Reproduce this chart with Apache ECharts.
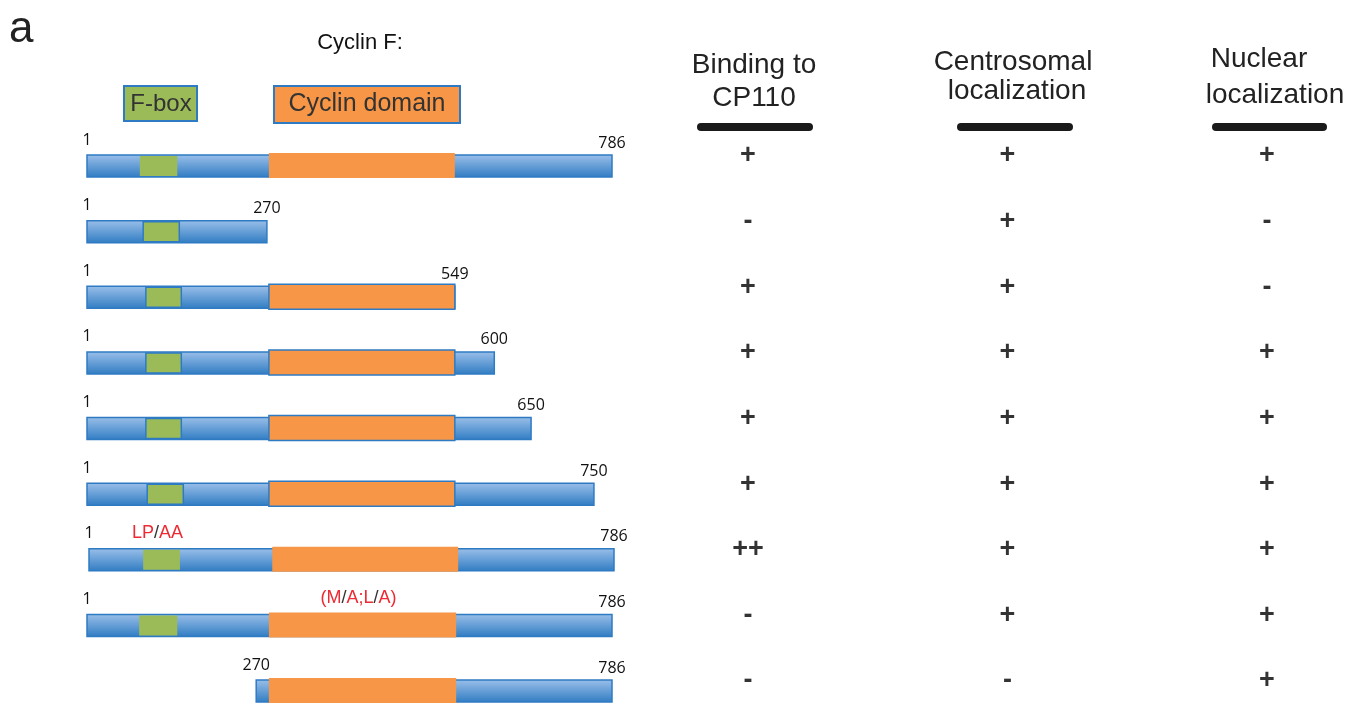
<!DOCTYPE html>
<html>
<head>
<meta charset="utf-8">
<script src="https://cdn.jsdelivr.net/npm/echarts@6/dist/echarts.min.js"></script>
<style>
  html, body { margin: 0; padding: 0; background: #fff; }
  #main { width: 1357px; height: 705px; }
</style>
</head>
<body>
<div id="main"></div>
<script>
// constructs of cyclin F, top to bottom
var rows = ['FL', '1-270', '1-549', '1-600', '1-650', '1-750', 'LP/AA', 'M/A;L/A', '270-786'];
// drawn extent of each construct (residues, as drawn in the figure)
var spanStart = [1, 1, 1, 1, 1, 1, 4, 1, 254];
var spanEnd = [786, 270, 551, 610, 665, 759, 789, 786, 786];
var startLabels = ['1', '1', '1', '1', '1', '1', '1', '1', '270'];
var endLabels = ['786', '270', '549', '600', '650', '750', '786', '786', '786'];
// F-box and cyclin domain (null = absent)
var fboxStart = [80, 85, 89, 89, 89, 91, 85, 79, null];
var fboxEnd = [136, 139, 142, 142, 142, 145, 140, 136, null];
var cyclinStart = [273, null, 273, 273, 273, 273, 278, 273, 273];
var cyclinEnd = [551, null, 551, 551, 551, 551, 556, 553, 553];
// point mutations, written above the mutated domain
var mutations = ['', '', '', '', '', '', '{r|LP}{k|/}{r|AA}', '{r|(M}{k|/}{r|A;L}{k|/}{r|A)}', ''];
var mutationDomain = [null, null, null, null, null, null, 'fbox', 'cyclin', null];
// phenotype table
var columns = ['Binding to\nCP110', 'Centrosomal\nlocalization', 'Nuclear\nlocalization'];
var binding = ['+', '-', '+', '+', '+', '+', '++', '-', '-'];
var centrosomal = ['+', '+', '+', '+', '+', '+', '+', '+', '-'];
var nuclear = ['+', '-', '-', '+', '+', '+', '+', '+', '+'];

var BLUE = '#2e7bc4';
var GREEN = '#9bbb59';
var ORANGE = '#f79646';
var RED = '#ec2a33';
var barGrad = new echarts.graphic.LinearGradient(0, 0, 0, 1, [
  { offset: 0, color: '#9cc0ea' },
  { offset: 1, color: '#2f7cc2' }
]);

var constructData = rows.map(function (r, i) {
  return [i, spanStart[i], spanEnd[i], fboxStart[i], fboxEnd[i], cyclinStart[i], cyclinEnd[i]];
});

function renderConstruct(params, api) {
  var i = params.dataIndex;
  var row = api.value(0);
  var p0 = api.coord([api.value(1), row]);
  var p1 = api.coord([api.value(2), row]);
  var h = 22;
  var cy = p0[1];
  var bordered = i >= 1 && i <= 5;
  var kids = [{
    type: 'rect',
    shape: { x: p0[0], y: cy - h / 2, width: p1[0] - p0[0], height: h },
    style: { fill: barGrad, stroke: BLUE, lineWidth: 1.5 }
  }];
  var fb = null, cd = null;
  if (fboxStart[i] != null) {
    var f0 = api.coord([fboxStart[i], row]), f1 = api.coord([fboxEnd[i], row]);
    fb = [f0[0], f1[0]];
    kids.push({
      type: 'rect',
      shape: { x: f0[0], y: cy - h / 2 + 1, width: f1[0] - f0[0], height: h - 2 },
      style: { fill: GREEN, stroke: bordered ? BLUE : null, lineWidth: 1.5 }
    });
  }
  if (cyclinStart[i] != null) {
    var c0 = api.coord([cyclinStart[i], row]), c1 = api.coord([cyclinEnd[i], row]);
    cd = [c0[0], c1[0]];
    kids.push({
      type: 'rect',
      shape: { x: c0[0], y: cy - h / 2 - 2, width: c1[0] - c0[0], height: h + 3 },
      style: { fill: ORANGE, stroke: bordered ? BLUE : null, lineWidth: 1.5 }
    });
  }
  kids.push({
    type: 'text', x: p0[0], y: cy - 26,
    style: { text: startLabels[i], font: '16px "Open Sans"', fill: '#111', align: 'center', verticalAlign: 'middle' }
  });
  kids.push({
    type: 'text', x: p1[0], y: cy - 23,
    style: { text: endLabels[i], font: '16px "Open Sans"', fill: '#111', align: 'center', verticalAlign: 'middle' }
  });
  if (mutations[i]) {
    var d = mutationDomain[i] === 'fbox' ? fb : cd;
    kids.push({
      type: 'text', x: (d[0] + d[1]) / 2 - 4, y: cy - 27,
      style: {
        text: mutations[i], align: 'center', verticalAlign: 'middle',
        rich: {
          r: { fontSize: 18, fontFamily: 'Liberation Sans', fill: RED },
          k: { fontSize: 18, fontFamily: 'Liberation Sans', fill: '#333' }
        }
      }
    });
  }
  return { type: 'group', children: kids };
}

var tableData = [];
[binding, centrosomal, nuclear].forEach(function (col, c) {
  col.forEach(function (v, r) { tableData.push([c, r, v]); });
});

// column headers and their underlines
var headerGraphics = [];
var headerPos = [
  [[754, 65], [754, 98]],
  [[1013, 62], [1017, 91]],
  [[1259, 59], [1275, 95]]
];
var underlineX = [[697, 813], [957, 1073], [1212, 1327]];
columns.forEach(function (name, c) {
  name.split('\n').forEach(function (line, k) {
    headerGraphics.push({
      type: 'text', x: headerPos[c][k][0], y: headerPos[c][k][1],
      style: { text: line, font: '28px "Liberation Sans"', fill: '#222', align: 'center', verticalAlign: 'middle' }
    });
  });
  headerGraphics.push({
    type: 'line',
    shape: { x1: underlineX[c][0] + 4, y1: 127, x2: underlineX[c][1] - 4, y2: 127 },
    style: { stroke: '#1a1a1a', lineWidth: 8, lineCap: 'round' }
  });
});

var chart = echarts.init(document.getElementById('main'));
chart.setOption({
  backgroundColor: '#fff',
  animation: false,
  grid: [
    { left: 87, right: 745, top: 166, bottom: 14 },
    { left: 748, right: 90, top: 166, bottom: 14 }
  ],
  xAxis: [
    { gridIndex: 0, type: 'value', min: 1, max: 786, show: false },
    { gridIndex: 1, type: 'category', data: columns, boundaryGap: false, show: false }
  ],
  yAxis: [
    { gridIndex: 0, type: 'category', data: rows, inverse: true, boundaryGap: false, show: false },
    { gridIndex: 1, type: 'category', data: rows, inverse: true, boundaryGap: false, show: false }
  ],
  graphic: [
    { type: 'text', x: 9, y: 8, style: { text: 'a', font: '44px "Liberation Sans"', fill: '#222' } },
    { type: 'text', x: 360, y: 43, style: { text: 'Cyclin F:', font: '22px "Liberation Sans"', fill: '#111', align: 'center', verticalAlign: 'middle' } },
    { type: 'rect', shape: { x: 124, y: 86, width: 73, height: 35 }, style: { fill: GREEN, stroke: BLUE, lineWidth: 2 } },
    { type: 'text', x: 161, y: 104, style: { text: 'F-box', font: '24px "Liberation Sans"', fill: '#333', align: 'center', verticalAlign: 'middle' } },
    { type: 'rect', shape: { x: 274, y: 86, width: 186, height: 37 }, style: { fill: ORANGE, stroke: BLUE, lineWidth: 2 } },
    { type: 'text', x: 367, y: 104, style: { text: 'Cyclin domain', font: '25px "Liberation Sans"', fill: '#333', align: 'center', verticalAlign: 'middle' } }
  ].concat(headerGraphics),
  series: [
    {
      type: 'custom',
      xAxisIndex: 0,
      yAxisIndex: 0,
      clip: false,
      renderItem: renderConstruct,
      data: constructData
    },
    {
      type: 'scatter',
      xAxisIndex: 1,
      yAxisIndex: 1,
      symbolSize: 0,
      silent: true,
      label: {
        show: true,
        position: 'inside',
        offset: [0, -10],
        formatter: function (p) { return p.value[2]; },
        fontSize: 27,
        fontWeight: 'bold',
        fontFamily: 'Liberation Sans',
        color: '#000'
      },
      data: tableData
    }
  ]
});
</script>
</body>
</html>
